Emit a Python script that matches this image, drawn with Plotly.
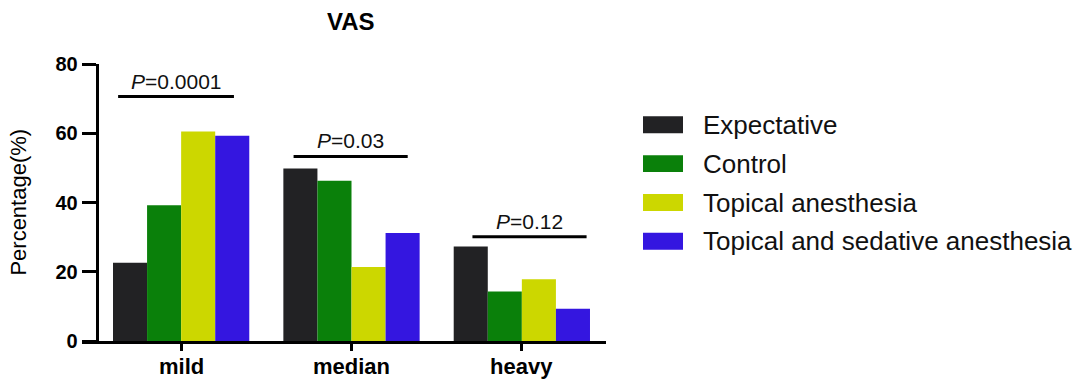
import plotly.graph_objects as go

categories = ["mild", "median", "heavy"]
series_names = ["Expectative", "Control", "Topical anesthesia", "Topical and sedative anesthesia"]
expectative = [22.6, 49.8, 27.3]
control = [39.2, 46.3, 14.3]
topical = [60.5, 21.4, 17.8]
topical_sedative = [59.3, 31.2, 9.3]
p_labels = ["<i>P</i>=0.0001", "<i>P</i>=0.03", "<i>P</i>=0.12"]
bracket_levels = [70.6, 53.3, 30.1]
y_ticks = [0, 20, 40, 60, 80]

colors = ["#222224", "#0a800a", "#ccd700", "#3416e0"]
values = [expectative, control, topical, topical_sedative]

W, H = 1092, 380
L, R, T, B = 82, 606, 64.3, 341.5

def px_x(x):
    return (x - L) / (R - L)

def px_y(y):
    return (B - y) / (B - T)

FONT = "Arial, Liberation Sans, sans-serif"

fig = go.Figure()
xs = list(range(len(categories)))
for name, vals, col in zip(series_names, values, colors):
    fig.add_trace(go.Bar(x=xs, y=vals, name=name, marker=dict(color=col, line=dict(width=0)),
                         showlegend=False))

# category labels (drawn as annotations so they are not clipped)
for i, c in enumerate(categories):
    fig.add_annotation(x=i, xref="x", y=px_y(367), yref="paper", text=f"<b>{c}</b>",
                       showarrow=False, xanchor="center", yanchor="middle",
                       font=dict(family=FONT, size=22, color="black"))

# significance brackets
bracket_span = [(-0.37, 0.31), (-0.34, 0.33), (-0.29, 0.38)]
for i, (lvl, lab, (a, b)) in enumerate(zip(bracket_levels, p_labels, bracket_span)):
    fig.add_shape(type="line", x0=i + a, x1=i + b, y0=lvl, y1=lvl, xref="x", yref="y",
                  line=dict(color="black", width=3))
    fig.add_annotation(x=i + (a + b) / 2, y=lvl, xref="x", yref="y", text=lab,
                       showarrow=False, yanchor="bottom", yshift=2,
                       font=dict(family=FONT, size=21, color="#111111"))

# custom legend
leg_y = [125, 164, 203, 241.7]
for name, col, yy in zip(series_names, colors, leg_y):
    fig.add_shape(type="rect", xref="paper", yref="paper",
                  x0=px_x(643), x1=px_x(683), y0=px_y(yy + 8.5), y1=px_y(yy - 8.5),
                  fillcolor=col, line=dict(width=0))
    fig.add_annotation(xref="paper", yref="paper", x=px_x(701), y=px_y(yy), text=name,
                       showarrow=False, xanchor="left", yanchor="middle",
                       font=dict(family=FONT, size=26, color="#111111"))

# y title
fig.add_annotation(xref="paper", yref="paper", x=px_x(19), y=px_y(203), text="Percentage(%)",
                   textangle=-90, showarrow=False, xanchor="center", yanchor="middle",
                   font=dict(family=FONT, size=22, color="black"))
# title
fig.add_annotation(xref="paper", yref="paper", x=px_x(351), y=px_y(22), text="<b>VAS</b>",
                   showarrow=False, xanchor="center", yanchor="middle",
                   font=dict(family=FONT, size=24, color="black"))

fig.update_layout(
    width=W, height=H,
    margin=dict(l=L, r=W - R, t=T, b=H - B, pad=0),
    paper_bgcolor="white", plot_bgcolor="white",
    barmode="group", bargap=0.2, bargroupgap=0,
    xaxis=dict(range=[-0.582, 2.494], tickvals=xs, showticklabels=False,
               automargin=False,
               showline=True, linecolor="black", linewidth=3, ticks="outside", ticklen=7,
               tickwidth=3, tickcolor="black", showgrid=False, zeroline=False),
    yaxis=dict(range=[0, 80], tickvals=y_ticks, ticktext=[f"<b>{v}</b>" for v in y_ticks],
               anchor="free", position=px_x(96.7), automargin=False,
               showline=True, linecolor="black", linewidth=3, ticks="outside", ticklen=14,
               tickwidth=3, tickcolor="black", showgrid=False, zeroline=False,
               tickfont=dict(family=FONT, size=20, color="black")),
)

fig.write_html("out.html")
